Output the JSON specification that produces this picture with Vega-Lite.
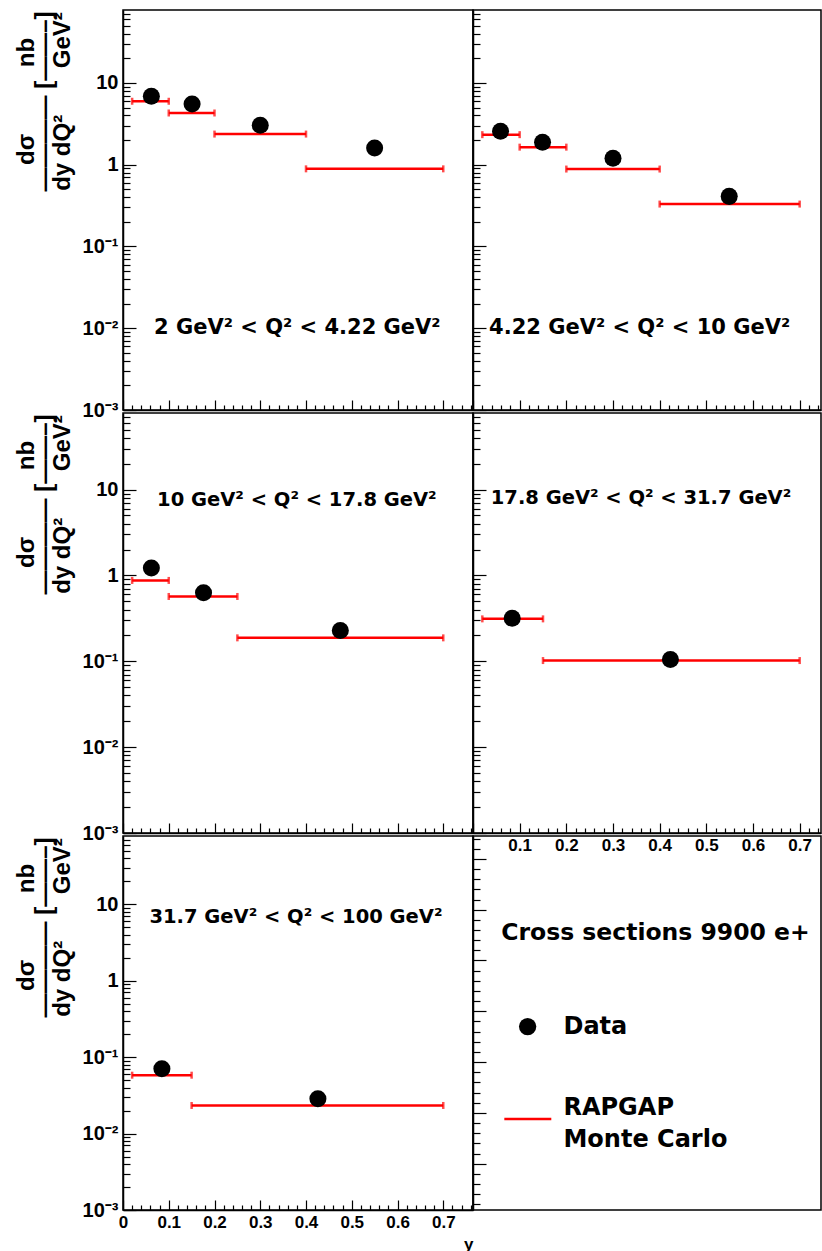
{
  "$schema": "https://vega.github.io/schema/vega-lite/v6.json",
  "padding": {"left": 13, "top": 3, "right": 0, "bottom": 0},
  "background": "#ffffff",
  "config": {
    "view": {"stroke": "#000000", "strokeWidth": 1.5},
    "axis": {"grid": false, "labelFont": "Liberation Sans", "labelFontWeight": "bold", "labelColor": "#000000", "titleFont": "Liberation Sans", "titleFontWeight": "bold", "titleColor": "#000000", "tickColor": "#000000", "tickWidth": 1.2, "domainColor": "#000000", "domainWidth": 1.5, "labelOverlap": false, "labelFlush": false},
    "axisX": {"labelFontSize": 17, "labelPadding": 14},
    "axisY": {"labelFontSize": 20, "labelPadding": 18}
  },
  "data": {"values": [
    {"panel": "A", "y_lo": 0.02, "y_hi": 0.10, "y_pt": 0.062, "xsec_data": 6.87, "xsec_mc": 5.97},
    {"panel": "A", "y_lo": 0.10, "y_hi": 0.20, "y_pt": 0.151, "xsec_data": 5.53, "xsec_mc": 4.29},
    {"panel": "A", "y_lo": 0.20, "y_hi": 0.40, "y_pt": 0.300, "xsec_data": 3.03, "xsec_mc": 2.37},
    {"panel": "A", "y_lo": 0.40, "y_hi": 0.70, "y_pt": 0.550, "xsec_data": 1.60, "xsec_mc": 0.89},
    {"panel": "B", "y_lo": 0.02, "y_hi": 0.10, "y_pt": 0.059, "xsec_data": 2.56, "xsec_mc": 2.33},
    {"panel": "B", "y_lo": 0.10, "y_hi": 0.20, "y_pt": 0.149, "xsec_data": 1.88, "xsec_mc": 1.64},
    {"panel": "B", "y_lo": 0.20, "y_hi": 0.40, "y_pt": 0.300, "xsec_data": 1.20, "xsec_mc": 0.885},
    {"panel": "B", "y_lo": 0.40, "y_hi": 0.70, "y_pt": 0.549, "xsec_data": 0.41, "xsec_mc": 0.33},
    {"panel": "C", "y_lo": 0.02, "y_hi": 0.10, "y_pt": 0.062, "xsec_data": 1.22, "xsec_mc": 0.875},
    {"panel": "C", "y_lo": 0.10, "y_hi": 0.25, "y_pt": 0.176, "xsec_data": 0.63, "xsec_mc": 0.569},
    {"panel": "C", "y_lo": 0.25, "y_hi": 0.70, "y_pt": 0.475, "xsec_data": 0.228, "xsec_mc": 0.1875},
    {"panel": "D", "y_lo": 0.02, "y_hi": 0.15, "y_pt": 0.084, "xsec_data": 0.318, "xsec_mc": 0.312},
    {"panel": "D", "y_lo": 0.15, "y_hi": 0.70, "y_pt": 0.423, "xsec_data": 0.105, "xsec_mc": 0.102},
    {"panel": "E", "y_lo": 0.02, "y_hi": 0.15, "y_pt": 0.085, "xsec_data": 0.0703, "xsec_mc": 0.058},
    {"panel": "E", "y_lo": 0.15, "y_hi": 0.70, "y_pt": 0.426, "xsec_data": 0.0286, "xsec_mc": 0.0233}
  ]},
  "columns": 2,
  "spacing": {"row": 3, "column": 0},
  "bounds": "flush",
  "align": "each",
  "concat": [
    {
      "width": 350, "height": 400,
      "transform": [{"filter": "datum.panel == 'A'"}],
      "resolve": {"axis": {"x": "independent", "y": "independent"}},
      "layer": [
        {"mark": {"type": "rule", "color": "#ff0000", "strokeWidth": 2.5},
         "encoding": {
           "x": {"field": "y_lo", "type": "quantitative", "scale": {"domain": [0, 0.765], "nice": false, "zero": false},
                 "axis": {"values": [0,0.02,0.04,0.06,0.08,0.1,0.12,0.14,0.16,0.18,0.2,0.22,0.24,0.26,0.28,0.3,0.32,0.34,0.36,0.38,0.4,0.42,0.44,0.46,0.48,0.5,0.52,0.54,0.56,0.58,0.6,0.62,0.64,0.66,0.68,0.7,0.72,0.74,0.76],
                          "tickSize": {"condition": {"test": "abs(datum.value*10 - round(datum.value*10)) < 0.01", "value": -10}, "value": -5},
                          "labels": false, "title": null}},
           "x2": {"field": "y_hi"},
           "y": {"field": "xsec_mc", "type": "quantitative", "scale": {"type": "log", "domain": [0.001, 78], "nice": false},
                 "axis": {"values": [0.001,0.002,0.003,0.004,0.005,0.006,0.007,0.008,0.009,0.01,0.02,0.03,0.04,0.05,0.06,0.07,0.08,0.09,0.1,0.2,0.3,0.4,0.5,0.6,0.7,0.8,0.9,1,2,3,4,5,6,7,8,9,10,20,30,40,50,60,70],
                          "tickSize": {"condition": {"test": "abs(log(datum.value)/LN10 - round(log(datum.value)/LN10)) < 0.01", "value": -13}, "value": -7},
                          "labelExpr": "abs(datum.value-10)<0.01 ? '10' : abs(datum.value-1)<0.001 ? '1' : abs(datum.value-0.1)<0.0001 ? '10⁻¹' : abs(datum.value-0.01)<0.00001 ? '10⁻²' : abs(datum.value-0.001)<0.000001 ? '10⁻³' : ''",
                          "title": ["dσ\u00a0\u00a0\u00a0\u00a0\u00a0\u00a0\u00a0\u00a0\u00a0\u00a0nb", "————\u00a0[——–]", "dy dQ²\u00a0\u00a0\u00a0\u00a0\u00a0\u00a0\u00a0GeV²"],
                          "titleFontSize": 24, "titleAlign": "center", "titleY": 91, "titleLineHeight": 18, "titlePadding": 8}}
         }},
        {"mark": {"type": "tick", "orient": "vertical", "color": "#ff0000", "thickness": 2.5, "size": 7},
         "encoding": {"x": {"field": "y_lo", "type": "quantitative", "axis": null}, "y": {"field": "xsec_mc", "type": "quantitative", "axis": null}}},
        {"mark": {"type": "tick", "orient": "vertical", "color": "#ff0000", "thickness": 2.5, "size": 7},
         "encoding": {"x": {"field": "y_hi", "type": "quantitative", "axis": null}, "y": {"field": "xsec_mc", "type": "quantitative", "axis": null}}},
        {"mark": {"type": "circle", "color": "#000000", "size": 290, "opacity": 1},
         "encoding": {"x": {"field": "y_pt", "type": "quantitative", "axis": null}, "y": {"field": "xsec_data", "type": "quantitative", "axis": null}}},
        {"data": {"values": [{}]},
         "mark": {"type": "text", "text": "2 GeV² < Q² < 4.22 GeV²", "font": "DejaVu Sans", "fontSize": 21, "fontWeight": "bold", "align": "center", "baseline": "middle", "color": "#000000"},
         "encoding": {"x": {"datum": 0.381, "type": "quantitative", "axis": null}, "y": {"datum": 0.01, "type": "quantitative", "axis": null}}}
      ]
    },
    {
      "width": 348, "height": 400,
      "transform": [{"filter": "datum.panel == 'B'"}],
      "resolve": {"axis": {"x": "independent", "y": "independent"}},
      "layer": [
        {"mark": {"type": "rule", "color": "#ff0000", "strokeWidth": 2.5},
         "encoding": {
           "x": {"field": "y_lo", "type": "quantitative", "scale": {"domain": [0, 0.7457], "nice": false, "zero": false},
                 "axis": {"values": [0,0.02,0.04,0.06,0.08,0.1,0.12,0.14,0.16,0.18,0.2,0.22,0.24,0.26,0.28,0.3,0.32,0.34,0.36,0.38,0.4,0.42,0.44,0.46,0.48,0.5,0.52,0.54,0.56,0.58,0.6,0.62,0.64,0.66,0.68,0.7,0.72,0.74],
                          "tickSize": {"condition": {"test": "abs(datum.value*10 - round(datum.value*10)) < 0.01", "value": -10}, "value": -5},
                          "labels": false, "title": null}},
           "x2": {"field": "y_hi"},
           "y": {"field": "xsec_mc", "type": "quantitative", "scale": {"type": "log", "domain": [0.001, 78], "nice": false},
                 "axis": {"values": [0.001,0.002,0.003,0.004,0.005,0.006,0.007,0.008,0.009,0.01,0.02,0.03,0.04,0.05,0.06,0.07,0.08,0.09,0.1,0.2,0.3,0.4,0.5,0.6,0.7,0.8,0.9,1,2,3,4,5,6,7,8,9,10,20,30,40,50,60,70],
                          "tickSize": {"condition": {"test": "abs(log(datum.value)/LN10 - round(log(datum.value)/LN10)) < 0.01", "value": -13}, "value": -7},
                          "labels": false, "title": null}}
         }},
        {"mark": {"type": "tick", "orient": "vertical", "color": "#ff0000", "thickness": 2.5, "size": 7},
         "encoding": {"x": {"field": "y_lo", "type": "quantitative", "axis": null}, "y": {"field": "xsec_mc", "type": "quantitative", "axis": null}}},
        {"mark": {"type": "tick", "orient": "vertical", "color": "#ff0000", "thickness": 2.5, "size": 7},
         "encoding": {"x": {"field": "y_hi", "type": "quantitative", "axis": null}, "y": {"field": "xsec_mc", "type": "quantitative", "axis": null}}},
        {"mark": {"type": "circle", "color": "#000000", "size": 290, "opacity": 1},
         "encoding": {"x": {"field": "y_pt", "type": "quantitative", "axis": null}, "y": {"field": "xsec_data", "type": "quantitative", "axis": null}}},
        {"data": {"values": [{}]},
         "mark": {"type": "text", "text": "4.22 GeV² < Q² < 10 GeV²", "font": "DejaVu Sans", "fontSize": 21, "fontWeight": "bold", "align": "center", "baseline": "middle", "color": "#000000"},
         "encoding": {"x": {"datum": 0.357, "type": "quantitative", "axis": null}, "y": {"datum": 0.01, "type": "quantitative", "axis": null}}}
      ]
    },
    {
      "width": 350, "height": 420,
      "transform": [{"filter": "datum.panel == 'C'"}],
      "resolve": {"axis": {"x": "independent", "y": "independent"}},
      "layer": [
        {"mark": {"type": "rule", "color": "#ff0000", "strokeWidth": 2.5},
         "encoding": {
           "x": {"field": "y_lo", "type": "quantitative", "scale": {"domain": [0, 0.765], "nice": false, "zero": false},
                 "axis": {"values": [0,0.02,0.04,0.06,0.08,0.1,0.12,0.14,0.16,0.18,0.2,0.22,0.24,0.26,0.28,0.3,0.32,0.34,0.36,0.38,0.4,0.42,0.44,0.46,0.48,0.5,0.52,0.54,0.56,0.58,0.6,0.62,0.64,0.66,0.68,0.7,0.72,0.74,0.76],
                          "tickSize": {"condition": {"test": "abs(datum.value*10 - round(datum.value*10)) < 0.01", "value": -10}, "value": -5},
                          "labels": false, "title": null}},
           "x2": {"field": "y_hi"},
           "y": {"field": "xsec_mc", "type": "quantitative", "scale": {"type": "log", "domain": [0.001, 78], "nice": false},
                 "axis": {"values": [0.001,0.002,0.003,0.004,0.005,0.006,0.007,0.008,0.009,0.01,0.02,0.03,0.04,0.05,0.06,0.07,0.08,0.09,0.1,0.2,0.3,0.4,0.5,0.6,0.7,0.8,0.9,1,2,3,4,5,6,7,8,9,10,20,30,40,50,60,70],
                          "tickSize": {"condition": {"test": "abs(log(datum.value)/LN10 - round(log(datum.value)/LN10)) < 0.01", "value": -13}, "value": -7},
                          "labelExpr": "abs(datum.value-10)<0.01 ? '10' : abs(datum.value-1)<0.001 ? '1' : abs(datum.value-0.1)<0.0001 ? '10⁻¹' : abs(datum.value-0.01)<0.00001 ? '10⁻²' : abs(datum.value-0.001)<0.000001 ? '10⁻³' : ''",
                          "title": ["dσ\u00a0\u00a0\u00a0\u00a0\u00a0\u00a0\u00a0\u00a0\u00a0\u00a0nb", "————\u00a0[——–]", "dy dQ²\u00a0\u00a0\u00a0\u00a0\u00a0\u00a0\u00a0GeV²"],
                          "titleFontSize": 24, "titleAlign": "center", "titleY": 91, "titleLineHeight": 18, "titlePadding": 8}}
         }},
        {"mark": {"type": "tick", "orient": "vertical", "color": "#ff0000", "thickness": 2.5, "size": 7},
         "encoding": {"x": {"field": "y_lo", "type": "quantitative", "axis": null}, "y": {"field": "xsec_mc", "type": "quantitative", "axis": null}}},
        {"mark": {"type": "tick", "orient": "vertical", "color": "#ff0000", "thickness": 2.5, "size": 7},
         "encoding": {"x": {"field": "y_hi", "type": "quantitative", "axis": null}, "y": {"field": "xsec_mc", "type": "quantitative", "axis": null}}},
        {"mark": {"type": "circle", "color": "#000000", "size": 290, "opacity": 1},
         "encoding": {"x": {"field": "y_pt", "type": "quantitative", "axis": null}, "y": {"field": "xsec_data", "type": "quantitative", "axis": null}}},
        {"data": {"values": [{}]},
         "mark": {"type": "text", "text": "10 GeV² < Q² < 17.8 GeV²", "font": "DejaVu Sans", "fontSize": 19.5, "fontWeight": "bold", "align": "center", "baseline": "middle", "color": "#000000"},
         "encoding": {"x": {"datum": 0.38, "type": "quantitative", "axis": null}, "y": {"datum": 7.5, "type": "quantitative", "axis": null}}}
      ]
    },
    {
      "width": 348, "height": 420,
      "transform": [{"filter": "datum.panel == 'D'"}],
      "resolve": {"axis": {"x": "independent", "y": "independent"}},
      "layer": [
        {"mark": {"type": "rule", "color": "#ff0000", "strokeWidth": 2.5},
         "encoding": {
           "x": {"field": "y_lo", "type": "quantitative", "scale": {"domain": [0, 0.7457], "nice": false, "zero": false},
                 "axis": {"values": [0,0.02,0.04,0.06,0.08,0.1,0.12,0.14,0.16,0.18,0.2,0.22,0.24,0.26,0.28,0.3,0.32,0.34,0.36,0.38,0.4,0.42,0.44,0.46,0.48,0.5,0.52,0.54,0.56,0.58,0.6,0.62,0.64,0.66,0.68,0.7,0.72,0.74],
                          "tickSize": {"condition": {"test": "abs(datum.value*10 - round(datum.value*10)) < 0.01", "value": -10}, "value": -5},
                          "labelExpr": "abs(datum.value*10 - round(datum.value*10)) < 0.01 && datum.value > 0.05 ? format(datum.value, '.1f') : ''",
                          "title": null}},
           "x2": {"field": "y_hi"},
           "y": {"field": "xsec_mc", "type": "quantitative", "scale": {"type": "log", "domain": [0.001, 78], "nice": false},
                 "axis": {"values": [0.001,0.002,0.003,0.004,0.005,0.006,0.007,0.008,0.009,0.01,0.02,0.03,0.04,0.05,0.06,0.07,0.08,0.09,0.1,0.2,0.3,0.4,0.5,0.6,0.7,0.8,0.9,1,2,3,4,5,6,7,8,9,10,20,30,40,50,60,70],
                          "tickSize": {"condition": {"test": "abs(log(datum.value)/LN10 - round(log(datum.value)/LN10)) < 0.01", "value": -13}, "value": -7},
                          "labels": false, "title": null}}
         }},
        {"mark": {"type": "tick", "orient": "vertical", "color": "#ff0000", "thickness": 2.5, "size": 7},
         "encoding": {"x": {"field": "y_lo", "type": "quantitative", "axis": null}, "y": {"field": "xsec_mc", "type": "quantitative", "axis": null}}},
        {"mark": {"type": "tick", "orient": "vertical", "color": "#ff0000", "thickness": 2.5, "size": 7},
         "encoding": {"x": {"field": "y_hi", "type": "quantitative", "axis": null}, "y": {"field": "xsec_mc", "type": "quantitative", "axis": null}}},
        {"mark": {"type": "circle", "color": "#000000", "size": 290, "opacity": 1},
         "encoding": {"x": {"field": "y_pt", "type": "quantitative", "axis": null}, "y": {"field": "xsec_data", "type": "quantitative", "axis": null}}},
        {"data": {"values": [{}]},
         "mark": {"type": "text", "text": "17.8 GeV² < Q² < 31.7 GeV²", "font": "DejaVu Sans", "fontSize": 19.5, "fontWeight": "bold", "align": "center", "baseline": "middle", "color": "#000000"},
         "encoding": {"x": {"datum": 0.36, "type": "quantitative", "axis": null}, "y": {"datum": 7.9, "type": "quantitative", "axis": null}}}
      ]
    },
    {
      "width": 350, "height": 374,
      "transform": [{"filter": "datum.panel == 'E'"}],
      "resolve": {"axis": {"x": "independent", "y": "independent"}},
      "layer": [
        {"mark": {"type": "rule", "color": "#ff0000", "strokeWidth": 2.5},
         "encoding": {
           "x": {"field": "y_lo", "type": "quantitative", "scale": {"domain": [0, 0.765], "nice": false, "zero": false},
                 "axis": {"values": [0,0.02,0.04,0.06,0.08,0.1,0.12,0.14,0.16,0.18,0.2,0.22,0.24,0.26,0.28,0.3,0.32,0.34,0.36,0.38,0.4,0.42,0.44,0.46,0.48,0.5,0.52,0.54,0.56,0.58,0.6,0.62,0.64,0.66,0.68,0.7,0.72,0.74,0.76],
                          "tickSize": {"condition": {"test": "abs(datum.value*10 - round(datum.value*10)) < 0.01", "value": -10}, "value": -5},
                          "labelExpr": "abs(datum.value*10 - round(datum.value*10)) < 0.01 ? (datum.value < 0.01 ? '0' : format(datum.value, '.1f')) : ''",
                          "title": "y", "titleFontSize": 17, "titleAnchor": "end", "titlePadding": 1}},
           "x2": {"field": "y_hi"},
           "y": {"field": "xsec_mc", "type": "quantitative", "scale": {"type": "log", "domain": [0.001, 78], "nice": false},
                 "axis": {"values": [0.001,0.002,0.003,0.004,0.005,0.006,0.007,0.008,0.009,0.01,0.02,0.03,0.04,0.05,0.06,0.07,0.08,0.09,0.1,0.2,0.3,0.4,0.5,0.6,0.7,0.8,0.9,1,2,3,4,5,6,7,8,9,10,20,30,40,50,60,70],
                          "tickSize": {"condition": {"test": "abs(log(datum.value)/LN10 - round(log(datum.value)/LN10)) < 0.01", "value": -13}, "value": -7},
                          "labelExpr": "abs(datum.value-10)<0.01 ? '10' : abs(datum.value-1)<0.001 ? '1' : abs(datum.value-0.1)<0.0001 ? '10⁻¹' : abs(datum.value-0.01)<0.00001 ? '10⁻²' : abs(datum.value-0.001)<0.000001 ? '10⁻³' : ''",
                          "title": ["dσ\u00a0\u00a0\u00a0\u00a0\u00a0\u00a0\u00a0\u00a0\u00a0\u00a0nb", "————\u00a0[——–]", "dy dQ²\u00a0\u00a0\u00a0\u00a0\u00a0\u00a0\u00a0GeV²"],
                          "titleFontSize": 24, "titleAlign": "center", "titleY": 91, "titleLineHeight": 18, "titlePadding": 8}}
         }},
        {"mark": {"type": "tick", "orient": "vertical", "color": "#ff0000", "thickness": 2.5, "size": 7},
         "encoding": {"x": {"field": "y_lo", "type": "quantitative", "axis": null}, "y": {"field": "xsec_mc", "type": "quantitative", "axis": null}}},
        {"mark": {"type": "tick", "orient": "vertical", "color": "#ff0000", "thickness": 2.5, "size": 7},
         "encoding": {"x": {"field": "y_hi", "type": "quantitative", "axis": null}, "y": {"field": "xsec_mc", "type": "quantitative", "axis": null}}},
        {"mark": {"type": "circle", "color": "#000000", "size": 290, "opacity": 1},
         "encoding": {"x": {"field": "y_pt", "type": "quantitative", "axis": null}, "y": {"field": "xsec_data", "type": "quantitative", "axis": null}}},
        {"data": {"values": [{}]},
         "mark": {"type": "text", "text": "31.7 GeV² < Q² < 100 GeV²", "font": "DejaVu Sans", "fontSize": 19.5, "fontWeight": "bold", "align": "center", "baseline": "middle", "color": "#000000"},
         "encoding": {"x": {"datum": 0.378, "type": "quantitative", "axis": null}, "y": {"datum": 6.85, "type": "quantitative", "axis": null}}}
      ]
    },
    {
      "width": 348, "height": 374,
      "data": {"values": [{}]},
      "resolve": {"axis": {"x": "independent", "y": "independent"}},
      "layer": [
        {"mark": {"type": "text", "text": "Cross sections 9900 e+", "font": "DejaVu Sans", "fontSize": 23.5, "fontWeight": "bold", "align": "left", "baseline": "middle", "color": "#000000"},
         "encoding": {
           "x": {"datum": 0.081, "type": "quantitative", "scale": {"domain": [0, 1], "nice": false, "zero": false}, "axis": null},
           "y": {"datum": 5.55, "type": "quantitative", "scale": {"domain": [0.09, 7.45], "nice": false, "zero": false},
                 "axis": {"values": [0.2,0.4,0.6,0.8,1,1.2,1.4,1.6,1.8,2,2.2,2.4,2.6,2.8,3,3.2,3.4,3.6,3.8,4,4.2,4.4,4.6,4.8,5,5.2,5.4,5.6,5.8,6,6.2,6.4,6.6,6.8,7,7.2,7.4],
                          "tickSize": {"condition": {"test": "abs(datum.value - round(datum.value)) < 0.01", "value": -13}, "value": -7},
                          "labels": false, "title": null}}
         }},
        {"mark": {"type": "circle", "color": "#000000", "size": 300, "opacity": 1},
         "encoding": {"x": {"datum": 0.157, "type": "quantitative", "axis": null}, "y": {"datum": 3.70, "type": "quantitative", "axis": null}}},
        {"mark": {"type": "text", "text": "Data", "font": "DejaVu Sans", "fontSize": 24, "fontWeight": "bold", "align": "left", "baseline": "middle", "color": "#000000"},
         "encoding": {"x": {"datum": 0.26, "type": "quantitative", "axis": null}, "y": {"datum": 3.70, "type": "quantitative", "axis": null}}},
        {"mark": {"type": "rule", "color": "#ff0000", "strokeWidth": 2.5},
         "encoding": {"x": {"datum": 0.09, "type": "quantitative", "axis": null}, "x2": {"datum": 0.225}, "y": {"datum": 1.88, "type": "quantitative", "axis": null}}},
        {"mark": {"type": "text", "text": ["RAPGAP", "Monte Carlo"], "lineHeight": 32, "font": "DejaVu Sans", "fontSize": 24, "fontWeight": "bold", "align": "left", "baseline": "middle", "color": "#000000"},
         "encoding": {"x": {"datum": 0.26, "type": "quantitative", "axis": null}, "y": {"datum": 2.1, "type": "quantitative", "axis": null}}}
      ]
    }
  ]
}
